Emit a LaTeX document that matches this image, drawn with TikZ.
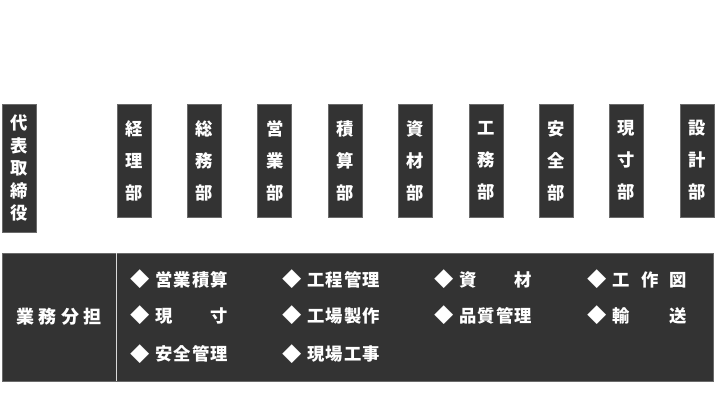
\documentclass[tikz,border=0pt]{standalone}
\usepackage{fontspec}
\newfontfamily\jp{Noto Sans CJK JP}
\definecolor{boxfill}{HTML}{333333}
\definecolor{boxedge}{HTML}{6A6A6A}
\newcommand\hf{\hfill{}}
\begin{document}
\begin{tikzpicture}[x=0.75pt,y=-0.75pt,
  darkbox/.style={fill=boxfill,draw=boxedge,line width=0.6pt,inner sep=0pt,text=white},
  deptbox/.style={darkbox,minimum width=25.5pt,minimum height=84.75pt,align=center,
    font=\jp\bfseries\fontsize{13pt}{24pt}\selectfont},
  ceobox/.style={darkbox,minimum width=25.5pt,minimum height=96pt,align=center,
    font=\jp\bfseries\fontsize{13pt}{16.9pt}\selectfont},
  item/.style={anchor=west,inner sep=0pt,text=white,font=\jp\bfseries\fontsize{13pt}{15pt}\selectfont},
  divider/.style={draw=white!85!black,line width=1.2pt}]
\useasboundingbox (0,0) rectangle (717,400);
% top row
\node[ceobox] (ceo) at (19,168) {代\\表\\取\\締\\役};
\node[deptbox] (d1) at (134,160.5) {経\\理\\部};
\node[deptbox] (d2) at (204.4,160.5) {総\\務\\部};
\node[deptbox] (d3) at (274.75,160.5) {営\\業\\部};
\node[deptbox] (d4) at (345.1,160.5) {積\\算\\部};
\node[deptbox] (d5) at (415.5,160.5) {資\\材\\部};
\node[deptbox] (d6) at (485.9,160.5) {工\\務\\部};
\node[deptbox] (d7) at (556.25,160.5) {安\\全\\部};
\node[deptbox] (d8) at (626.6,160.5) {現\\寸\\部};
\node[deptbox] (d9) at (697,160.5) {設\\計\\部};
% bottom bar
\node[darkbox,minimum width=447.75pt,minimum height=96pt] (list) at (414.5,317) {};
\node[darkbox,minimum width=85.5pt,minimum height=96pt,
  font=\jp\bfseries\fontsize{13.5pt}{15pt}\selectfont] (duty) at (59,317)
  {\makebox[64pt][s]{業\hf 務\hf 分\hf 担}};
\draw[divider] (duty.north east) -- (duty.south east);
% items
\newcommand\dia{\makebox[13pt]{\raisebox{-0.6pt}{\fontsize{14.5pt}{16pt}\selectfont ◆}}\hspace{4.9pt}}
\node[item] (i11) at (131.5,279.5) {\dia\makebox[54pt][s]{営\hf 業\hf 積\hf 算}};
\node[item] (i21) at (131.5,315.5) {\dia\makebox[54pt][s]{現\hf 寸}};
\node[item] (i31) at (131.5,354) {\dia\makebox[54pt][s]{安\hf 全\hf 管\hf 理}};
\node[item] (i12) at (283.5,279.5) {\dia\makebox[54pt][s]{工\hf 程\hf 管\hf 理}};
\node[item] (i22) at (283.5,315.5) {\dia\makebox[54pt][s]{工\hf 場\hf 製\hf 作}};
\node[item] (i32) at (283.5,354) {\dia\makebox[54pt][s]{現\hf 場\hf 工\hf 事}};
\node[item] (i13) at (435.5,279.5) {\dia\makebox[54pt][s]{資\hf 材}};
\node[item] (i23) at (435.5,315.5) {\dia\makebox[54pt][s]{品\hf 質\hf 管\hf 理}};
\node[item] (i14) at (588.5,279.5) {\dia\makebox[56pt][s]{工\hf 作\hf 図}};
\node[item] (i24) at (588.5,315.5) {\dia\makebox[56pt][s]{輸\hf 送}};
\end{tikzpicture}
\end{document}
